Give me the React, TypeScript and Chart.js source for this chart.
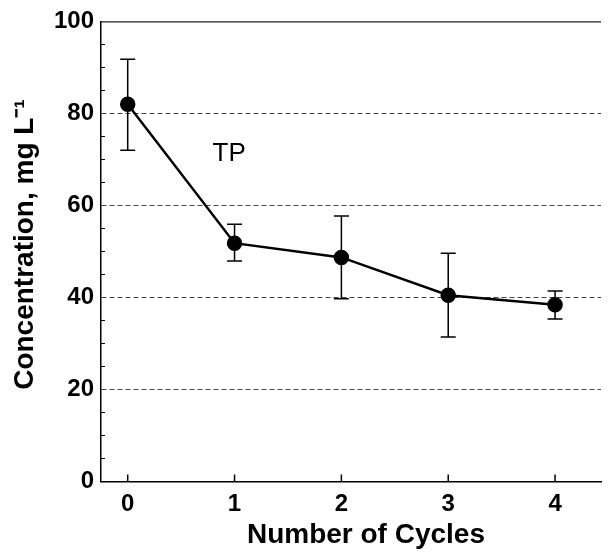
import React, { useEffect, useRef } from "react";
import { Chart, registerables } from "chart.js";

Chart.register(...registerables);

const cycles = [0, 1, 2, 3, 4];
const tpMean = [82.0, 51.8, 48.7, 40.5, 38.4];
const tpLow = [72.0, 47.9, 39.7, 31.4, 35.3];
const tpHigh = [91.8, 55.9, 57.7, 49.6, 41.4];
const yTicks = [0, 20, 40, 60, 80, 100];
const xTicks = [0, 1, 2, 3, 4];
const seriesLabel = "TP";
const labelPos = { x: 0.95, y: 71.2 };
const xTitle = "Number of Cycles";
const yTitle = "Concentration, mg L\u207B\u00B9";

const FONT = "'Liberation Sans', Arial, Helvetica, sans-serif";

const decorPlugin = {
  id: "decor",
  beforeDatasetsDraw(chart: any) {
    const { ctx, chartArea, scales } = chart;
    const xs = scales.x;
    const ys = scales.y;
    ctx.save();
    // top border
    ctx.strokeStyle = "#222";
    ctx.lineWidth = 1.2;
    ctx.beginPath();
    ctx.moveTo(chartArea.left, chartArea.top + 0.5);
    ctx.lineTo(chartArea.right, chartArea.top + 0.5);
    ctx.stroke();
    // minor y ticks (inward)
    ctx.strokeStyle = "#000";
    ctx.lineWidth = 1;
    for (let v = 5; v < 100; v += 5) {
      if (v % 20 === 0) continue;
      const y = Math.round(ys.getPixelForValue(v)) + 0.5;
      ctx.beginPath();
      ctx.moveTo(chartArea.left, y);
      ctx.lineTo(chartArea.left + 4, y);
      ctx.stroke();
    }
    // x ticks (inward)
    ctx.lineWidth = 1.5;
    xTicks.forEach((v) => {
      const x = xs.getPixelForValue(v);
      ctx.beginPath();
      ctx.moveTo(x, chartArea.bottom);
      ctx.lineTo(x, chartArea.bottom - 7);
      ctx.stroke();
    });
    // error bars
    ctx.lineWidth = 1.5;
    cycles.forEach((c, i) => {
      const x = xs.getPixelForValue(c);
      const yl = ys.getPixelForValue(tpLow[i]);
      const yh = ys.getPixelForValue(tpHigh[i]);
      ctx.beginPath();
      ctx.moveTo(x, yl);
      ctx.lineTo(x, yh);
      ctx.moveTo(x - 7.5, yl);
      ctx.lineTo(x + 7.5, yl);
      ctx.moveTo(x - 7.5, yh);
      ctx.lineTo(x + 7.5, yh);
      ctx.stroke();
    });
    // series label
    ctx.fillStyle = "#000";
    ctx.font = `26px ${FONT}`;
    ctx.textAlign = "center";
    ctx.textBaseline = "middle";
    ctx.fillText(seriesLabel, xs.getPixelForValue(labelPos.x), ys.getPixelForValue(labelPos.y));
    ctx.restore();
  },
  afterDraw(chart: any) {
    const { ctx, scales } = chart;
    const xs = scales.x;
    const ys = scales.y;
    ctx.save();
    ctx.fillStyle = "#000";
    ctx.font = `bold 28px ${FONT}`;
    ctx.textAlign = "center";
    ctx.textBaseline = "middle";
    ctx.fillText(xTitle, xs.getPixelForValue(2.23), 535);
    ctx.translate(25, ys.getPixelForValue(51.5));
    ctx.rotate(-Math.PI / 2);
    ctx.fillText(yTitle, 0, 0);
    ctx.restore();
  },
};

export default function App() {
  const ref = useRef<HTMLCanvasElement>(null);
  useEffect(() => {
    document.body.style.margin = "0";
    const chart = new Chart(ref.current!, {
      type: "line",
      data: {
        datasets: [
          {
            label: seriesLabel,
            data: cycles.map((c, i) => ({ x: c, y: tpMean[i] })),
            borderColor: "#000",
            backgroundColor: "#000",
            borderWidth: 2.5,
            pointRadius: 6.5,
            pointBackgroundColor: "#000",
            pointBorderColor: "#000",
            tension: 0,
          },
        ],
      },
      options: {
        responsive: false,
        animation: false,
        layout: { padding: { top: 19, right: 0, left: 0, bottom: 0 } },
        plugins: { legend: { display: false }, tooltip: { enabled: false } },
        scales: {
          x: {
            type: "linear",
            min: -0.25,
            max: 4.43,
            afterBuildTicks: (s: any) => {
              s.ticks = xTicks.map((v) => ({ value: v }));
            },
            afterFit: (s: any) => {
              s.height = 75.5;
            },
            grid: { display: false, drawTicks: false },
            border: { display: true, color: "#000", width: 1.5 },
            ticks: {
              color: "#000",
              font: { family: FONT, size: 24, weight: "bold" },
              padding: 8,
              callback: (v: any) => String(v),
            },
            title: { display: false },
          },
          y: {
            type: "linear",
            min: 0,
            max: 100,
            afterBuildTicks: (s: any) => {
              s.ticks = yTicks.map((v) => ({ value: v }));
            },
            afterFit: (s: any) => {
              s.width = 101;
            },
            grid: {
              drawTicks: false,
              lineWidth: 1,
              color: (c: any) => (c.tick && (c.tick.value === 0 || c.tick.value === 100) ? "rgba(0,0,0,0)" : "#444"),
            },
            border: { display: true, color: "#000", width: 1.5, dash: [5, 3] },
            ticks: {
              color: "#000",
              font: { family: FONT, size: 24, weight: "bold" },
              padding: 7,
            },
            title: { display: false },
          },
        },
      },
      plugins: [decorPlugin],
    } as any);
    return () => chart.destroy();
  }, []);
  return (
    <div style={{ width: 610, height: 557 }}>
      <canvas ref={ref} width={610} height={557} />
    </div>
  );
}
